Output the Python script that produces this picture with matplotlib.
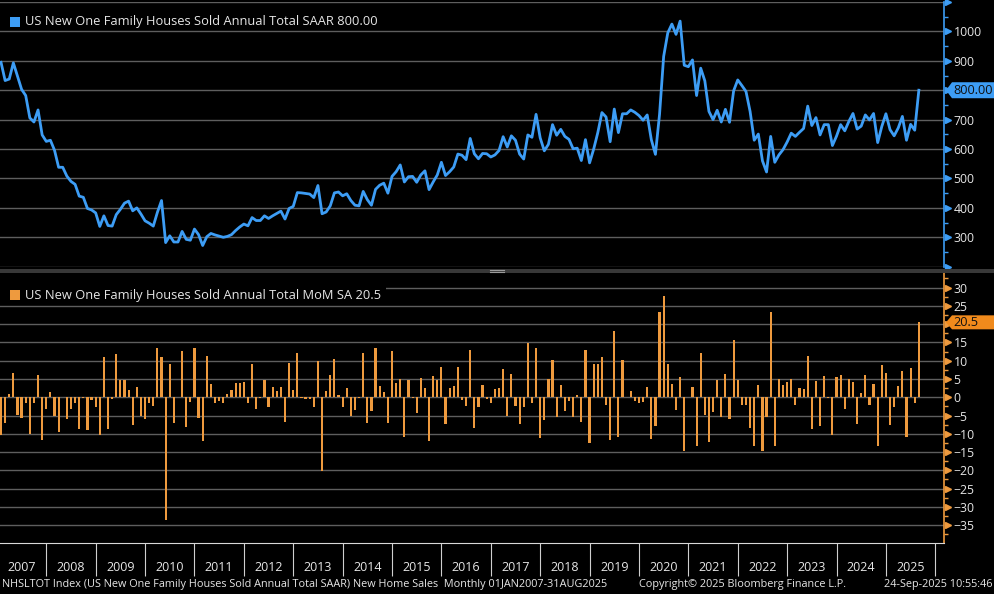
import numpy as np
import matplotlib.pyplot as plt
import matplotlib.transforms as mtransforms
from matplotlib.patches import Rectangle, Polygon

# Ventas de viviendas nuevas (miles, SAAR), mensual ene-2007 .. ago-2025
ventas_2007 = [895, 833, 838, 893, 848, 803, 782, 706, 692, 733, 648, 626]
ventas_2008 = [630, 596, 538, 538, 508, 490, 480, 440, 436, 398, 393, 383]
ventas_2009 = [337, 373, 340, 338, 377, 395, 416, 423, 390, 400, 379, 356]
ventas_2010 = [348, 338, 385, 425, 282, 305, 284, 284, 320, 293, 290, 328]
ventas_2011 = [309, 272, 302, 313, 308, 304, 300, 303, 309, 323, 335, 345]
ventas_2012 = [339, 367, 357, 357, 373, 364, 373, 381, 389, 362, 398, 405]
ventas_2013 = [452, 451, 449, 447, 435, 476, 380, 386, 407, 451, 454, 441]
ventas_2014 = [448, 425, 409, 407, 456, 428, 409, 463, 477, 484, 450, 507]
ventas_2015 = [523, 546, 488, 506, 507, 487, 512, 526, 462, 488, 512, 555]
ventas_2016 = [510, 523, 539, 583, 579, 564, 636, 584, 567, 585, 584, 573]
ventas_2017 = [580, 595, 642, 607, 645, 630, 583, 566, 648, 640, 718, 638]
ventas_2018 = [594, 616, 683, 647, 667, 643, 633, 601, 603, 561, 632, 553]
ventas_2019 = [600, 656, 724, 709, 625, 736, 656, 720, 720, 733, 725, 714]
ventas_2020 = [698, 716, 632, 582, 718, 915, 995, 1025, 990, 1035, 885, 880]
ventas_2021 = [903, 782, 875, 832, 728, 700, 732, 692, 735, 691, 798, 835]
ventas_2022 = [816, 796, 728, 630, 651, 560, 522, 643, 555, 580, 598, 624]
ventas_2023 = [654, 643, 657, 670, 746, 680, 707, 648, 683, 683, 612, 644]
ventas_2024 = [683, 662, 694, 721, 668, 678, 716, 699, 721, 622, 677, 720]
ventas_2025 = [666, 645, 672, 711, 630, 684, 664, 800]

# Variación mensual (%)
mom_2007 = [-10.4, -7.0, 0.8, 6.5, -4.9, -5.7, -1.7, -10.0, -1.5, 6.0, -11.6, -3.1]
mom_2008 = [1.3, -5.1, -9.5, 0.2, -5.9, -3.1, -1.7, -8.7, -0.2, -8.9, -0.8, -2.8]
mom_2009 = [-10.4, 10.9, -8.6, -0.4, 11.8, 4.7, 4.7, 1.9, -7.5, 2.7, -5.1, -5.9]
mom_2010 = [-1.7, -2.4, 13.4, 10.9, -33.6, 9.0, -7.0, 0.1, 12.6, -8.2, -1.3, 13.6]
mom_2011 = [-5.6, -12.0, 11.3, 3.6, -1.6, -1.1, -1.6, 1.0, 1.9, 4.0, 3.9, 4.1]
mom_2012 = [-1.6, 9.2, -3.1, -0.1, 4.7, -2.7, 2.7, 1.7, 2.7, -6.8, 9.5, 1.9]
mom_2013 = [12.0, -0.1, -0.4, -0.5, -2.7, 9.9, -20.2, 1.6, 6.0, 10.4, 0.5, -2.7]
mom_2014 = [2.4, -5.1, -3.6, -0.2, 12.0, -7.0, -3.8, 13.6, 3.2, 1.3, -7.1, 12.6]
mom_2015 = [3.8, 4.9, -10.9, 4.6, -0.1, -4.2, 5.4, 2.5, -12.0, 5.8, 4.7, 8.4]
mom_2016 = [-7.4, 2.5, 3.0, 8.4, -0.8, -2.4, 12.9, -8.4, -2.7, 3.3, -0.4, -1.6]
mom_2017 = [2.2, 2.5, 7.7, -5.1, 6.3, -2.4, -7.4, -2.7, 14.9, -1.6, 13.6, -11.1]
mom_2018 = [-6.3, 4.9, 10.2, -5.4, 3.3, -3.8, -1.0, -5.4, 0.5, -6.8, 12.9, -12.5]
mom_2019 = [9.1, 9.1, 10.9, -2.1, -11.6, 18.1, -10.9, 10.2, 0.0, 1.6, -1.0, -1.6]
mom_2020 = [-1.3, 2.7, -11.4, -7.9, 23.2, 27.7, 9.1, 3.6, -3.6, 5.5, -14.7, 0.0]
mom_2021 = [2.7, -13.4, 12.1, -4.9, -12.3, -4.0, 4.7, -5.4, 6.3, -6.0, 15.7, 4.7]
mom_2022 = [-2.1, -2.1, -8.4, -13.4, 3.3, -14.7, -5.4, 23.2, -13.4, 5.0, 3.3, 4.1]
mom_2023 = [5.0, -2.1, 2.5, 2.2, 11.3, -8.7, 4.4, -7.9, 5.8, -0.1, -10.3, 5.5]
mom_2024 = [6.0, -3.1, 5.1, 4.1, -7.3, 1.1, 6.0, -2.0, 3.6, -13.4, 8.7, 6.6]
mom_2025 = [-7.5, -2.8, 3.0, 7.1, -11.0, 7.9, -1.6, 20.5]

anios = list(range(2007, 2026))

ventas = (ventas_2007 + ventas_2008 + ventas_2009 + ventas_2010 + ventas_2011 + ventas_2012
          + ventas_2013 + ventas_2014 + ventas_2015 + ventas_2016 + ventas_2017 + ventas_2018
          + ventas_2019 + ventas_2020 + ventas_2021 + ventas_2022 + ventas_2023 + ventas_2024
          + ventas_2025)
mom = (mom_2007 + mom_2008 + mom_2009 + mom_2010 + mom_2011 + mom_2012 + mom_2013 + mom_2014
       + mom_2015 + mom_2016 + mom_2017 + mom_2018 + mom_2019 + mom_2020 + mom_2021 + mom_2022
       + mom_2023 + mom_2024 + mom_2025)

# fecha decimal a fin de mes
fechas = 2007 + (np.arange(len(ventas)) + 1) / 12

azul = '#3d9df5'
naranja = '#ee9a3e'
gris = '#5e5e5e'
texto = '#e6e6e6'
plt.rcParams['font.family'] = ['Open Sans', 'DejaVu Sans']

W, H = 994, 594
fig = plt.figure(figsize=(W / 100, H / 100), dpi=100, facecolor='black')

ax1 = fig.add_axes([0, 1 - 266.7 / H, 944 / W, (266.7 - 2) / H], facecolor='black')
ax2 = fig.add_axes([0, 1 - 543.4 / H, 944 / W, (543.4 - 273) / H], facecolor='black')

xmin, xmax = 2007.063, 2026.176

# Panel superior: nivel
ax1.plot(fechas, ventas, color=azul, lw=2.0, zorder=3)
ax1.set_xlim(xmin, xmax)
ax1.set_ylim(200, 1100)
ax1.set_xticks([])
ax1.set_yticks(range(200, 1101, 100))
# 200, 1100 sin texto; 800 queda tapado por la etiqueta del último valor
ax1.set_yticklabels(['' if v in (200, 800, 1100) else str(v) for v in range(200, 1101, 100)])
ax1.set_yticks(np.arange(250, 1100, 100), minor=True)
ax1.grid(axis='y', color=gris, lw=1)
ax1.yaxis.tick_right()
ax1.tick_params(axis='y', which='major', length=0, pad=7, labelcolor=texto, labelsize=8.8)
ax1.tick_params(axis='y', which='minor', length=3, width=1, color=azul)
for lado in ['top', 'left', 'bottom']:
    ax1.spines[lado].set_visible(False)
ax1.spines['right'].set_color(azul)
ax1.spines['right'].set_linewidth(1.2)

# Panel inferior: variación mensual
ax2.bar(fechas, mom, width=0.044, color=naranja, lw=0, zorder=3)
ax2.set_xlim(xmin, xmax)
ax2.set_ylim(-40, 34)
ticks2 = list(range(-35, 31, 5))
ax2.set_yticks(ticks2)
ax2.set_yticklabels(['' if v == 20 else str(v).replace('-', '\u2212') for v in ticks2])
ax2.set_yticks(np.arange(-37.5, 33, 2.5), minor=True)
ax2.grid(axis='y', color=gris, lw=1)
ax2.yaxis.tick_right()
ax2.tick_params(axis='y', which='major', length=0, pad=7, labelcolor=texto, labelsize=8.8)
ax2.tick_params(axis='y', which='minor', length=3, width=1, color=naranja)
for lado in ['top', 'left']:
    ax2.spines[lado].set_visible(False)
ax2.spines['right'].set_color(naranja)
ax2.spines['right'].set_linewidth(1.2)
ax2.spines['bottom'].set_color('#d8d8d8')

ax2.set_xticks(range(2008, 2027))
ax2.set_xticklabels([])
ax2.set_xticks([a + 0.5 for a in anios], minor=True)
ax2.set_xticklabels([str(a) for a in anios], minor=True)
ax2.tick_params(axis='x', which='major', length=24, width=0.8, color='#cfcfcf')
ax2.tick_params(axis='x', which='minor', length=0, pad=13, labelcolor=texto, labelsize=9)

# triángulos de las marcas del eje derecho
off = mtransforms.ScaledTranslation(3 / 72, 0, fig.dpi_scale_trans)
t1 = mtransforms.blended_transform_factory(ax1.transAxes, ax1.transData) + off
ax1.plot([1] * 10, range(200, 1101, 100), ls='none', marker='>', ms=5, color=azul,
         transform=t1, clip_on=False)
t2 = mtransforms.blended_transform_factory(ax2.transAxes, ax2.transData) + off
ax2.plot([1] * len(ticks2), ticks2, ls='none', marker='>', ms=5, color=naranja,
         transform=t2, clip_on=False)

ident = mtransforms.IdentityTransform()

# leyendas
for (y0, color, etiqueta) in [(8, azul, 'US New One Family Houses Sold Annual Total SAAR 800.00'),
                              (281, naranja, 'US New One Family Houses Sold Annual Total MoM SA 20.5')]:
    fig.patches.append(Rectangle((0, (H - y0 - 21) / H), 386 / W, 21 / H,
                                 transform=fig.transFigure, fc='black', ec='none', zorder=1))
    fig.patches.append(Rectangle((10 / W, (H - y0 - 19) / H), 10 / W, 10 / H,
                                 transform=fig.transFigure, fc=color, ec='none', zorder=2))
    fig.text(25 / W, 1 - (y0 + 14) / H, etiqueta, color=texto, fontsize=9.3, va='center')

# separador entre paneles
fig.patches.append(Rectangle((0, (H - 272.5) / H), 1, 4 / H, transform=fig.transFigure,
                             fc='#383838', ec='none', zorder=1))
for dy in (269.5, 271.5):
    fig.lines.append(plt.Line2D([490 / W, 504 / W], [1 - dy / H] * 2, transform=fig.transFigure,
                                color='#9a9a9a', lw=0.8))


# etiquetas del último valor
def etiqueta_valor(ax, valor, txt, fondo, h):
    y = ax.transData.transform((2020, valor))[1]
    x0 = ax.transAxes.transform((1, 0))[0] + 2
    pts = [(x0, y), (x0 + 6, y + h), (W, y + h), (W, y - h), (x0 + 6, y - h)]
    fig.patches.append(Polygon(pts, closed=True, transform=ident, fc=fondo, ec='none', zorder=2))
    fig.text(x0 + 7, y, txt, transform=ident, color='#101010', fontsize=9.2, va='center', zorder=4)


etiqueta_valor(ax1, ventas[-1], '800.00', azul, 8)
etiqueta_valor(ax2, mom[-1], '20.5', '#f08a1c', 7)

# pie
fig.text(2 / W, 1 - 585 / H,
         'NHSLTOT Index (US New One Family Houses Sold Annual Total SAAR) New Home Sales  '
         'Monthly 01JAN2007-31AUG2025', color=texto, fontsize=7.8, va='center')
fig.text(639 / W, 1 - 585 / H, 'Copyright\u00a9 2025 Bloomberg Finance L.P.', color=texto,
         fontsize=7.8, va='center')
fig.text(992 / W, 1 - 585 / H, '24-Sep-2025 10:55:46', color=texto, fontsize=7.8,
         va='center', ha='right')

fig.savefig('out.png', dpi=100, facecolor='black')
